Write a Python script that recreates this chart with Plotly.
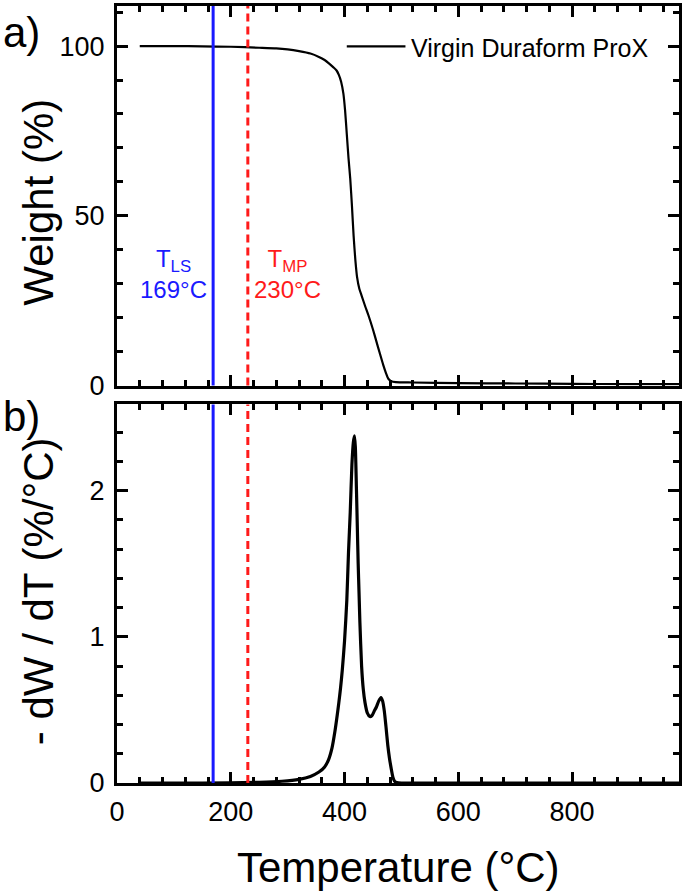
import plotly.graph_objects as go

# ---------------- data ----------------
temp_tga = [40, 100, 150, 200, 250, 280, 300, 320, 340, 355, 365, 372, 380, 386, 390,
            394, 398, 401, 404, 407, 410, 413, 416, 419, 422, 426, 430, 436, 442, 450,
            456, 462, 468, 473, 477, 482, 490, 520, 600, 700, 800, 900, 990]
weight = [100, 100, 99.9, 99.8, 99.5, 99.3, 99.0, 98.5, 97.8, 96.8, 95.9, 95.0, 93.8, 92.8, 91.5,
          89.5, 86, 81, 74, 67, 61, 53, 44, 37, 32, 28.5, 26.5, 23.5, 20.7, 16.5,
          13, 9.5, 6.1, 3.6, 2.0, 1.3, 1.0, 0.9, 0.7, 0.6, 0.5, 0.4, 0.4]

temp_dtg = [40, 150, 250, 290, 320, 340, 355, 365, 372, 378, 383, 387, 390, 393, 396, 400,
            404, 407, 410, 413, 415.5, 417.5, 419, 421, 422.5, 424, 425.5, 427, 430, 433,
            436, 440, 444.5, 448, 452, 456, 460, 464, 467, 470, 473, 476, 479, 482,
            485, 488, 492, 500, 600, 800, 990]
dtg = [0, 0, 0.005, 0.012, 0.025, 0.045, 0.075, 0.11, 0.16, 0.24, 0.35, 0.46, 0.55, 0.65, 0.77, 0.97,
       1.25, 1.58, 1.85, 2.18, 2.33, 2.375, 2.3, 2.0, 1.75, 1.5, 1.3, 1.1, 0.8, 0.64,
       0.55, 0.48, 0.455, 0.46, 0.49, 0.52, 0.56, 0.585, 0.56, 0.49, 0.38, 0.26, 0.17, 0.1,
       0.04, 0.012, 0.003, 0, 0, 0, 0]

series_name = "Virgin Duraform ProX"
T_LS = 169
T_MP = 230
x_ticks = [0, 200, 400, 600, 800]
y1_ticks = [0, 50, 100]
y2_ticks = [0, 1, 2]

FONT = "Arial, Liberation Sans, sans-serif"

fig = go.Figure()
fig.add_trace(go.Scatter(x=temp_tga, y=weight, mode="lines", name=series_name,
                         line=dict(color="black", width=2.2, shape="spline", smoothing=0.6),
                         xaxis="x", yaxis="y", showlegend=False))
fig.add_trace(go.Scatter(x=temp_dtg, y=dtg, mode="lines", name=series_name,
                         line=dict(color="black", width=3.2, shape="spline", smoothing=0.6),
                         xaxis="x2", yaxis="y2", showlegend=False))

L, R, T, B = 117, 3, 3, 113
W, H = 685, 896
pw, ph = W - L - R, H - T - B


def px(xp):
    return (xp - L) / pw


def py(yp):
    return (H - B - yp) / ph


ax_common = dict(showline=True, linewidth=3, linecolor="black", mirror="allticks",
                 ticks="inside", ticklen=11, tickwidth=2.5, tickcolor="black",
                 showgrid=False, zeroline=False,
                 tickfont=dict(family=FONT, size=27, color="black"))

fig.update_layout(
    width=W, height=H, margin=dict(l=L, r=R, t=T, b=B),
    paper_bgcolor="white", plot_bgcolor="white",
    xaxis=dict(ax_common, range=[0, 988], tickvals=x_ticks, showticklabels=False,
               minor=dict(ticks="inside", ticklen=6, tickwidth=2.5, tickcolor="black", dtick=40, showgrid=False),
               anchor="y", domain=[0, 1]),
    yaxis=dict(ax_common, range=[0, 111.8], tickvals=y1_ticks, ticklabelstandoff=4,
               minor=dict(ticks="inside", ticklen=6, tickwidth=2.5, tickcolor="black", dtick=10, showgrid=False),
               anchor="x", domain=[py(384), 1]),
    xaxis2=dict(ax_common, range=[0, 988], tickvals=x_ticks, ticklabelstandoff=3,
                minor=dict(ticks="inside", ticklen=6, tickwidth=2.5, tickcolor="black", dtick=40, showgrid=False),
                anchor="y2", domain=[0, 1]),
    yaxis2=dict(ax_common, range=[0, 2.59], tickvals=y2_ticks, ticklabelstandoff=4,
                minor=dict(ticks="inside", ticklen=6, tickwidth=2.5, tickcolor="black", dtick=0.2, showgrid=False),
                anchor="x2", domain=[0, py(403)]),
)

# vertical reference lines
for xr, yr in [("x", "y domain"), ("x2", "y2 domain")]:
    fig.add_shape(type="line", xref=xr, yref=yr, x0=T_LS, x1=T_LS, y0=0, y1=1,
                  line=dict(color="#1a1aff", width=3))
    fig.add_shape(type="line", xref=xr, yref=yr, x0=T_MP, x1=T_MP, y0=0, y1=1,
                  line=dict(color="#ff1a1a", width=3, dash="8px,5px"))

# legend (manual, long line sample)
fig.add_shape(type="line", xref="paper", yref="paper", x0=px(348), x1=px(407),
              y0=py(43.5), y1=py(43.5), line=dict(color="black", width=2.2))
fig.add_annotation(xref="paper", yref="paper", x=px(411), y=py(45), xanchor="left", yanchor="middle",
                   text=series_name, showarrow=False, font=dict(family=FONT, size=25, color="black"))

# temperature labels
fig.add_annotation(xref="x", yref="y", x=T_LS, y=33, xanchor="right", yanchor="middle", xshift=-4,
                   text="T<sub>LS</sub><br>%d°C" % T_LS, showarrow=False, align="center",
                   font=dict(family=FONT, size=24, color="#1a1aff"))
fig.add_annotation(xref="x", yref="y", x=T_MP, y=33, xanchor="left", yanchor="middle", xshift=4,
                   text="T<sub>MP</sub><br>%d°C" % T_MP, showarrow=False, align="center",
                   font=dict(family=FONT, size=24, color="#ff1a1a"))

# axis titles
fig.add_annotation(xref="paper", yref="paper", x=px(38), y=py(200), xanchor="center", yanchor="middle",
                   textangle=-90, text="Weight (%)", showarrow=False,
                   font=dict(family=FONT, size=42, color="black"))
fig.add_annotation(xref="paper", yref="paper", x=px(38), y=py(590), xanchor="center", yanchor="middle",
                   textangle=-90, text="- dW / dT (%/°C)", showarrow=False,
                   font=dict(family=FONT, size=42, color="black"))
fig.add_annotation(xref="paper", yref="paper", x=0.5, y=py(868), xanchor="center", yanchor="middle",
                   text="Temperature (°C)", showarrow=False, font=dict(family=FONT, size=42, color="black"))

# panel labels
fig.add_annotation(xref="paper", yref="paper", x=px(21), y=py(30), xanchor="center", yanchor="middle",
                   text="a)", showarrow=False, font=dict(family=FONT, size=42, color="black"))
fig.add_annotation(xref="paper", yref="paper", x=px(21), y=py(415), xanchor="center", yanchor="middle",
                   text="b)", showarrow=False, font=dict(family=FONT, size=42, color="black"))

fig.write_html("out.html", config={"displayModeBar": False},
               post_script="document.body.style.margin='0px';")
